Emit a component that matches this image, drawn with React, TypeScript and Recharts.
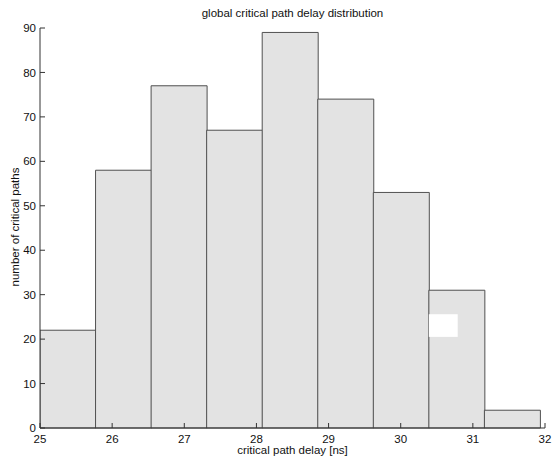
import React from "react";
import {
  ComposedChart, Bar, XAxis, YAxis, ReferenceArea,
} from "recharts";

// histogram bins (centres in ns) and counts
const binCenters = [25.385, 26.155, 26.925, 27.695, 28.465, 29.235, 30.005, 30.775, 31.545];
const counts = [22, 58, 77, 67, 89, 74, 53, 31, 4];

const xTicks = [25, 26, 27, 28, 29, 30, 31, 32];
const yTicks = [0, 10, 20, 30, 40, 50, 60, 70, 80, 90];

// small blank patch seen in the 31 ns bin
const patchX = [30.39, 30.79];
const patchY = [20.5, 25.6];

const FONT = "'Liberation Sans', Arial, Helvetica, sans-serif";
const AXIS = "#333333";

const data = binCenters.map((c, i) => ({ center: c, count: counts[i] }));

const noLabel = () => <text />;

export default function App() {
  return (
    <div style={{ position: "absolute", left: 0, top: 0, width: 553, height: 459, background: "#fff", fontFamily: FONT }}>
      <ComposedChart
        width={553}
        height={459}
        data={data}
        margin={{ top: 28, right: 8, bottom: 0, left: 0 }}
        barCategoryGap={0}
        barGap={0}
      >
        <XAxis
          xAxisId="b"
          dataKey="center"
          type="number"
          domain={[25, 32]}
          ticks={xTicks}
          interval={0}
          allowDataOverflow
          height={31}
          stroke={AXIS}
          tickSize={-5}
          tickMargin={12}
          tick={{ fontSize: 11.5, fill: "#111", fontFamily: FONT }}
        />
        <XAxis
          xAxisId="t"
          orientation="top"
          dataKey="center"
          type="number"
          domain={[25, 32]}
          ticks={xTicks}
          interval={0}
          allowDataOverflow
          height={0}
          stroke={AXIS}
          tickSize={-5}
          tick={noLabel}
        />
        <YAxis
          yAxisId="l"
          type="number"
          domain={[0, 90]}
          ticks={yTicks}
          interval={0}
          width={40}
          stroke={AXIS}
          tickSize={-5}
          tickMargin={9}
          tick={{ fontSize: 11.5, fill: "#111", fontFamily: FONT }}
        />
        <YAxis
          yAxisId="r"
          orientation="right"
          type="number"
          domain={[0, 90]}
          ticks={yTicks}
          interval={0}
          width={0}
          stroke={AXIS}
          tickSize={-5}
          tick={noLabel}
        />
        <Bar
          xAxisId="b"
          yAxisId="l"
          dataKey="count"
          fill="#e3e3e3"
          stroke="#505050"
          strokeWidth={1}
          isAnimationActive={false}
        />
        <ReferenceArea
          xAxisId="b"
          yAxisId="l"
          x1={patchX[0]}
          x2={patchX[1]}
          y1={patchY[0]}
          y2={patchY[1]}
          fill="#ffffff"
          fillOpacity={1}
          stroke="none"
          ifOverflow="visible"
          zIndex={450}
        />
      </ComposedChart>
      <div style={{ position: "absolute", left: 40, width: 505, top: 7, textAlign: "center", fontSize: 11.5, color: "#111", whiteSpace: "nowrap" }}>
        global critical path delay distribution
      </div>
      <div style={{ position: "absolute", left: 40, width: 505, top: 444, textAlign: "center", fontSize: 11.5, color: "#111", whiteSpace: "nowrap" }}>
        critical path delay [ns]
      </div>
      <div
        style={{
          position: "absolute", left: 15, top: 228, width: 200, marginLeft: -100, marginTop: -7,
          textAlign: "center", fontSize: 11.5, color: "#111", whiteSpace: "nowrap",
          transform: "rotate(-90deg)",
        }}
      >
        number of critical paths
      </div>
    </div>
  );
}
